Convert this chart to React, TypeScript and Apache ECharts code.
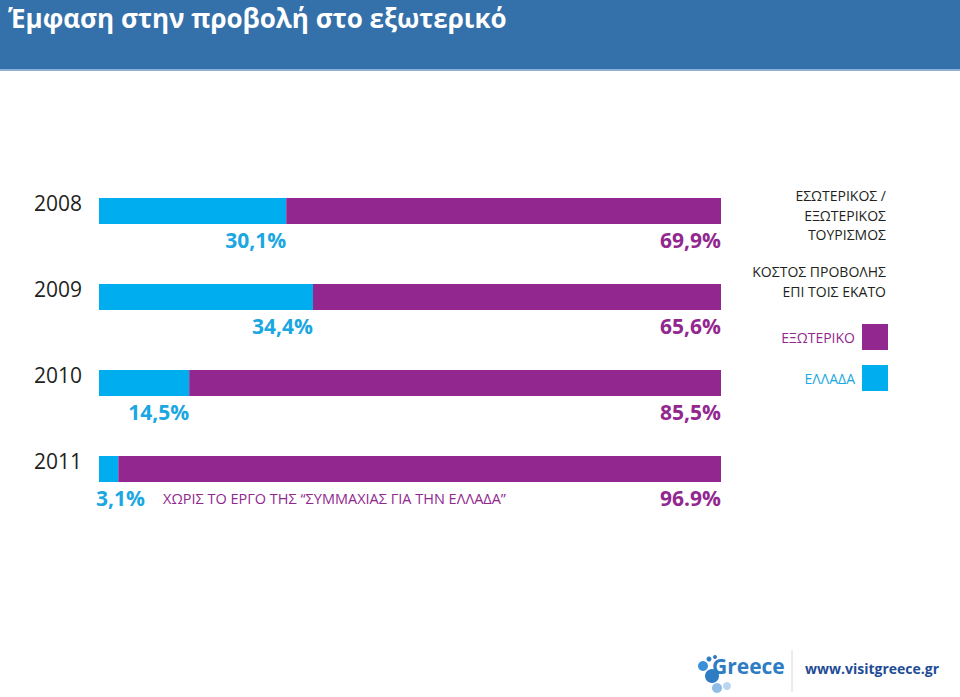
import React, { useEffect, useRef } from "react";
import * as echarts from "echarts";

const years = ["2008", "2009", "2010", "2011"];
const elladaValues = [30.1, 34.4, 14.5, 3.1];
const exoterikoValues = [69.9, 65.6, 85.5, 96.9];
const elladaLabels = ["30,1%", "34,4%", "14,5%", "3,1%"];
const exoterikoLabels = ["69,9%", "65,6%", "85,5%", "96.9%"];
const seriesNames = ["ΕΛΛΑΔΑ", "ΕΞΩΤΕΡΙΚΟ"];

const CYAN = "#00aeef";
const CYAN_TXT = "#1ba7e1";
const PURPLE = "#92278f";
const FONT = "'Open Sans', 'Noto Sans', sans-serif";

export default function App() {
  const ref = useRef<HTMLDivElement>(null);
  useEffect(() => {
    if (!ref.current) return;
    const chart = echarts.init(ref.current, null, { renderer: "svg" });
    const labelBase = {
      show: true,
      position: ["100%", "100%"],
      align: "right",
      verticalAlign: "top",
      offset: [0, 5],
      fontSize: 21,
      fontWeight: "bold",
      fontFamily: FONT,
    };
    chart.setOption({
      animation: false,
      backgroundColor: "#ffffff",
      title: {
        text: "Έμφαση στην προβολή στο εξωτερικό",
        left: 3,
        top: 0,
        textStyle: { color: "#ffffff", fontSize: 26, fontWeight: "bold", fontFamily: FONT },
      },
      legend: {
        data: [
          { name: "ΕΞΩΤΕΡΙΚΟ", textStyle: { color: PURPLE } },
          { name: "ΕΛΛΑΔΑ", textStyle: { color: CYAN_TXT } },
        ],
        orient: "vertical",
        right: 67,
        top: 319,
        align: "right",
        itemWidth: 26,
        itemHeight: 26,
        itemGap: 15,
        icon: "rect",
        textStyle: { fontSize: 14, fontFamily: FONT, padding: [0, 2, 0, 0] },
      },
      grid: { left: 99, right: 239, top: 168, height: 344, containLabel: false },
      xAxis: { type: "value", min: 0, max: 100, show: false },
      yAxis: {
        type: "category",
        data: years,
        inverse: true,
        axisLine: { show: false },
        axisTick: { show: false },
        axisLabel: {
          color: "#231f20",
          fontSize: 21,
          fontFamily: FONT,
          margin: 17,
          verticalAlign: "bottom",
          lineHeight: 17,
        },
      },
      series: [
        {
          name: seriesNames[0],
          type: "bar",
          stack: "total",
          barWidth: 26,
          itemStyle: { color: CYAN },
          label: { ...labelBase, color: CYAN_TXT, formatter: (p: any) => elladaLabels[p.dataIndex] },
          data: elladaValues.map((v, i) =>
            i === elladaValues.length - 1
              ? { value: v, label: { position: ["0%", "100%"], align: "left", offset: [-3, 5] } }
              : v
          ),
        },
        {
          name: seriesNames[1],
          type: "bar",
          stack: "total",
          barWidth: 26,
          itemStyle: { color: PURPLE },
          label: { ...labelBase, color: PURPLE, formatter: (p: any) => exoterikoLabels[p.dataIndex] },
          data: exoterikoValues,
        },
      ],
      graphic: [
        { type: "rect", z: -1, shape: { x: 0, y: 0, width: 960, height: 69 }, style: { fill: "#3470a9" } },
        { type: "rect", z: -1, shape: { x: 0, y: 69, width: 960, height: 2 }, style: { fill: "#8db0d6" } },
        {
          type: "text",
          x: 886,
          y: 186,
          style: {
            text: "ΕΣΩΤΕΡΙΚΟΣ /\nΕΞΩΤΕΡΙΚΟΣ\nΤΟΥΡΙΣΜΟΣ",
            fill: "#231f20",
            font: `14px ${FONT}`,
            lineHeight: 19.5,
            align: "right",
            verticalAlign: "top",
          },
        },
        {
          type: "text",
          x: 886,
          y: 261,
          style: {
            text: "ΚΟΣΤΟΣ ΠΡΟΒΟΛΗΣ\nΕΠΙ ΤΟΙΣ ΕΚΑΤΟ",
            fill: "#231f20",
            font: `14px ${FONT}`,
            lineHeight: 20.5,
            align: "right",
            verticalAlign: "top",
          },
        },
        {
          type: "text",
          x: 163,
          y: 491,
          style: {
            text: "ΧΩΡΙΣ ΤΟ ΕΡΓΟ ΤΗΣ “ΣΥΜΜΑΧΙΑΣ ΓΙΑ ΤΗΝ ΕΛΛΑΔΑ”",
            fill: PURPLE,
            font: `14.5px ${FONT}`,
            verticalAlign: "top",
          },
        },
        // logo
        { type: "circle", shape: { cx: 703, cy: 666, r: 5 }, style: { fill: "#3a8fd6" } },
        { type: "circle", shape: { cx: 712, cy: 676, r: 7 }, style: { fill: "#2e7dc4" } },
        { type: "circle", shape: { cx: 717, cy: 688, r: 5 }, style: { fill: "#8fbde6" } },
        { type: "circle", shape: { cx: 727, cy: 686, r: 4 }, style: { fill: "#b9d5ef" } },
        { type: "circle", shape: { cx: 709, cy: 659, r: 2.5 }, style: { fill: "#2e7dc4" } },
        { type: "circle", shape: { cx: 715, cy: 657, r: 2 }, style: { fill: "#2e7dc4" } },
        {
          type: "text",
          x: 712,
          y: 655,
          style: { text: "Greece", fill: "#2e7dc4", font: `bold 21px ${FONT}`, verticalAlign: "top" },
        },
        { type: "line", shape: { x1: 792, y1: 650, x2: 792, y2: 692 }, style: { stroke: "#d8d8d8", lineWidth: 1 } },
        {
          type: "text",
          x: 805,
          y: 661,
          style: { text: "www.visitgreece.gr", fill: "#1f4c96", font: `bold 14px ${FONT}`, verticalAlign: "top" },
        },
      ],
    });
    return () => chart.dispose();
  }, []);
  return <div ref={ref} style={{ position: "fixed", left: 0, top: 0, width: 960, height: 697 }} />;
}
